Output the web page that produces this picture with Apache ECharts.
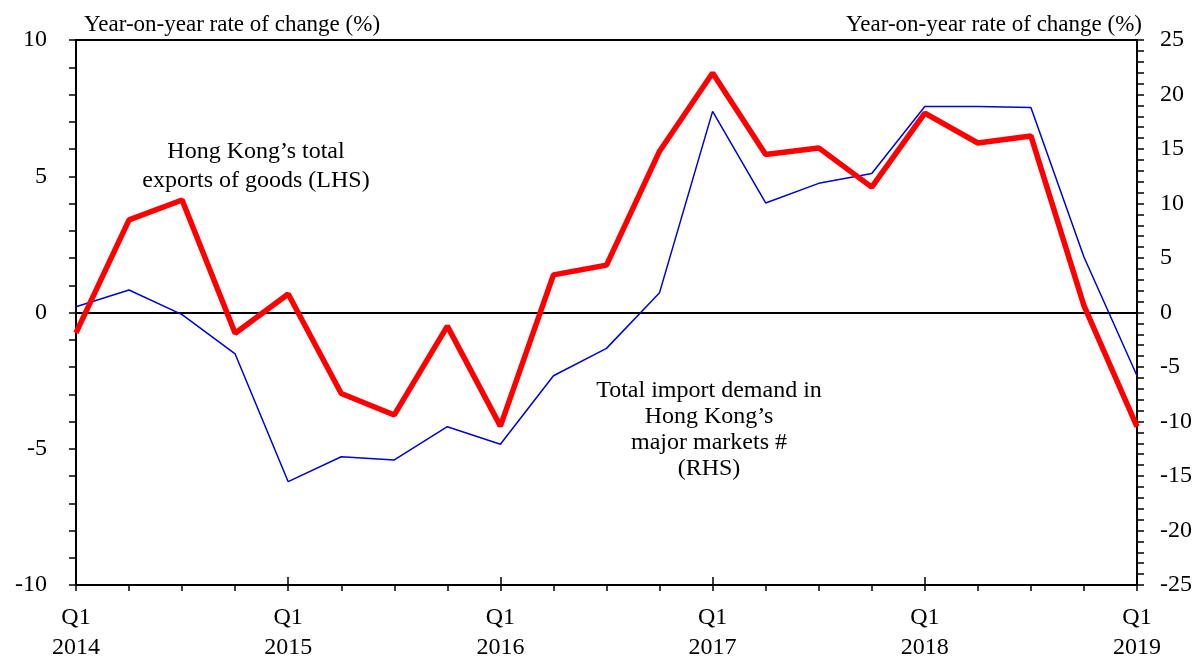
<!DOCTYPE html>
<html>
<head>
<meta charset="utf-8">
<script src="https://cdn.jsdelivr.net/npm/echarts@6/dist/echarts.min.js"></script>
<style>html,body{margin:0;padding:0;background:#fff;}#c{width:1198px;height:657px;}</style>
</head>
<body>
<div id="c"></div>
<script>
const quarters = ['Q1','Q2','Q3','Q4','Q1','Q2','Q3','Q4','Q1','Q2','Q3','Q4','Q1','Q2','Q3','Q4','Q1','Q2','Q3','Q4','Q1'];
const years = ['2014','2014','2014','2014','2015','2015','2015','2015','2016','2016','2016','2016','2017','2017','2017','2017','2018','2018','2018','2018','2019'];
const hkExports = [-0.75, 3.4, 4.13, -0.76, 0.68, -2.97, -3.76, -0.5, -4.17, 1.38, 1.74, 5.92, 8.79, 5.8, 6.04, 4.6, 7.32, 6.22, 6.48, 0.25, -4.19];
const importDemand = [0.53, 2.06, -0.2, -3.8, -15.52, -13.23, -13.53, -10.48, -12.09, -5.8, -3.29, 1.82, 18.45, 10.05, 11.85, 12.75, 18.9, 18.9, 18.8, 5.09, -5.8];
const leftTitle = 'Year-on-year rate of change (%)';
const rightTitle = 'Year-on-year rate of change (%)';
const exportsLabel = 'Hong Kong\u2019s total\nexports of goods (LHS)';
const importLabel = 'Total import demand in\nHong Kong\u2019s\nmajor markets #\n(RHS)';

const categories = quarters.map((q, i) => q + '\n' + years[i]);
const FONT = 'Liberation Serif';
const chart = echarts.init(document.getElementById('c'), null, {renderer: 'canvas'});
const tickStyle = {color: '#000', width: 1.5};
chart.setOption({
  animation: false,
  backgroundColor: '#fff',
  textStyle: {fontFamily: FONT},
  grid: {left: 76, right: 61, top: 40, bottom: 72, containLabel: false, outerBoundsMode: 'none',
    show: true, borderColor: '#000', borderWidth: 2, backgroundColor: 'transparent'},
  xAxis: [{
    type: 'category', data: categories, boundaryGap: false, position: 'bottom',
    axisLine: {show: true, lineStyle: {color: '#000', width: 2}, onZero: false},
    axisTick: {show: true, interval: 0, length: 6, lineStyle: tickStyle},
    axisLabel: {interval: 3, margin: 18, color: '#000', fontFamily: FONT, fontSize: 24, lineHeight: 30},
    splitLine: {show: false}
  }, {
    type: 'category', data: categories, boundaryGap: false, position: 'bottom',
    axisLine: {show: false, onZero: false},
    axisTick: {show: true, inside: true, interval: 3, length: 8, lineStyle: tickStyle},
    axisLabel: {show: false},
    splitLine: {show: false}
  }],
  yAxis: [{
    type: 'value', min: -10, max: 10, interval: 5, position: 'left',
    axisLine: {show: true, lineStyle: {color: '#000', width: 2}, onZero: false},
    axisTick: {show: true, length: 7, lineStyle: tickStyle},
    minorTick: {show: true, splitNumber: 5, length: 7, lineStyle: tickStyle},
    axisLabel: {color: '#000', fontFamily: FONT, fontSize: 24, margin: 29},
    splitLine: {show: false}
  }, {
    type: 'value', min: -25, max: 25, interval: 5, position: 'right',
    axisLine: {show: true, lineStyle: {color: '#000', width: 2}, onZero: false},
    axisTick: {show: true, length: 7, lineStyle: tickStyle},
    minorTick: {show: true, splitNumber: 5, length: 7, lineStyle: tickStyle},
    axisLabel: {color: '#000', fontFamily: FONT, fontSize: 24, margin: 23},
    splitLine: {show: false}
  }],
  series: [{
    name: 'Total import demand in Hong Kong\u2019s major markets # (RHS)',
    type: 'line', data: importDemand, xAxisIndex: 0, yAxisIndex: 1,
    symbol: 'none', lineStyle: {color: '#0000dd', width: 1.5}, z: 3
  }, {
    name: 'Hong Kong\u2019s total exports of goods (LHS)',
    type: 'line', data: hkExports, xAxisIndex: 0, yAxisIndex: 0,
    symbol: 'none', lineStyle: {color: '#ff0000', width: 5.5}, z: 4,
    markLine: {silent: true, symbol: 'none', label: {show: false},
      lineStyle: {color: '#000', width: 2, type: 'solid'}, data: [{yAxis: 0}], z: 2}
  }],
  graphic: [
    {type: 'text', left: 84, top: 13, style: {text: leftTitle, font: '23px "Liberation Serif"', fill: '#000'}},
    {type: 'text', right: 56, top: 13, style: {text: rightTitle, font: '23px "Liberation Serif"', fill: '#000', textAlign: 'right'}},
    {type: 'text', x: 256, y: 137, style: {text: exportsLabel, font: '24px "Liberation Serif"', fill: '#000', textAlign: 'center', lineHeight: 29}},
    {type: 'text', x: 709, y: 378, style: {text: importLabel, font: '24px "Liberation Serif"', fill: '#000', textAlign: 'center', lineHeight: 26}}
  ]
});
</script>
</body>
</html>
